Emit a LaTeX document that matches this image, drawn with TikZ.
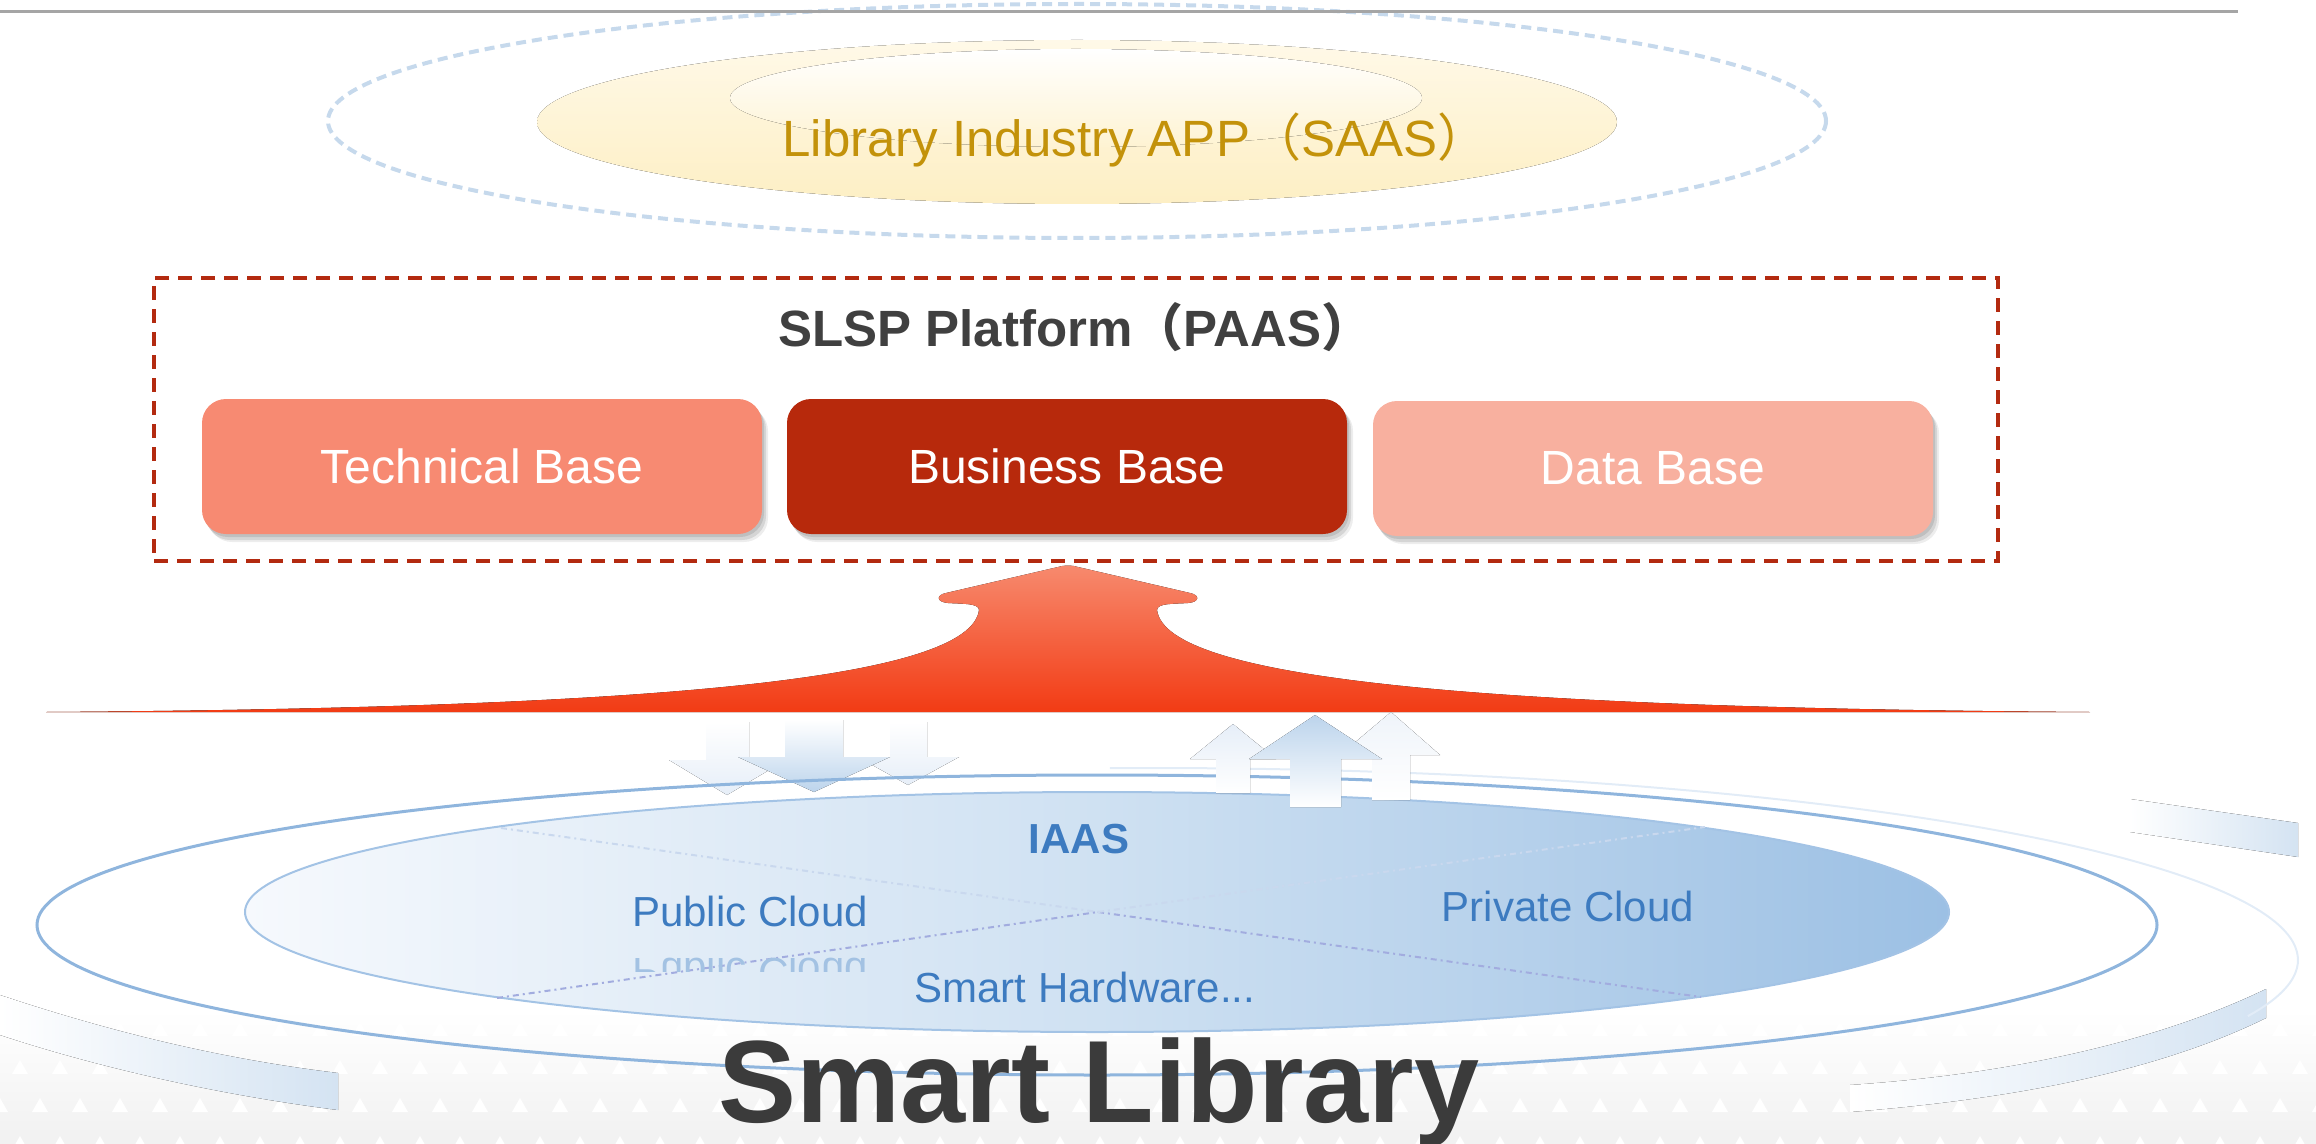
\documentclass[tikz,border=0pt]{standalone}
\usepackage{fontspec}
\setmainfont{Liberation Sans}
\newfontfamily\cjk{Noto Sans CJK SC}
\usetikzlibrary{shadows}
\definecolor{lineGray}{HTML}{A5A5A5}
\definecolor{dashBlue}{HTML}{C6D9EC}
\definecolor{yelA}{HTML}{FFF9E8}
\definecolor{yelB}{HTML}{FDEFC4}
\definecolor{goldText}{HTML}{C3920A}
\definecolor{redDash}{HTML}{B32A10}
\definecolor{titleGray}{HTML}{404040}
\definecolor{techCol}{HTML}{F78A72}
\definecolor{busCol}{HTML}{B7290C}
\definecolor{dataCol}{HTML}{F8B09F}
\definecolor{arrowTop}{HTML}{F78A6E}
\definecolor{arrowBot}{HTML}{F23B14}
\definecolor{outerBlue}{HTML}{8FB5DD}
\definecolor{innerLine}{HTML}{A3C3E5}
\definecolor{innerL}{HTML}{F6F9FD}
\definecolor{innerM}{HTML}{CFE1F2}
\definecolor{innerR}{HTML}{9CC0E4}
\definecolor{blueText}{HTML}{3D7BC0}
\definecolor{darkText}{HTML}{3B3B3B}
\definecolor{bandBlue}{HTML}{D4E3F2}
\definecolor{faintRing}{HTML}{E2ECF7}
\definecolor{arrowBlue}{HTML}{BCD4EC}
\definecolor{ghostBlue}{HTML}{E6EEF8}
\definecolor{ghostBlueB}{HTML}{EFF4FA}
\definecolor{xFaint}{HTML}{C9D8EE}
\definecolor{xPurple}{HTML}{A2ACDF}
\definecolor{bgGray}{HTML}{F1F1F1}
\tikzset{
  softshadow/.style={
    drop shadow={shadow xshift=1pt, shadow yshift=-1.5pt, opacity=0.10, fill=black},
    drop shadow={shadow xshift=2pt, shadow yshift=-3pt, opacity=0.10, fill=black},
    drop shadow={shadow xshift=3pt, shadow yshift=-4pt, opacity=0.07, fill=black}},
  basebox/.style={rounded corners=12pt, minimum width=280pt, minimum height=67.5pt,
    inner sep=0pt, text=white, font=\fontsize{24}{28}\selectfont, softshadow},
  bluetext/.style={anchor=base, text=blueText, font=\fontsize{21}{25}\selectfont},
  xline/.style={line width=1pt, dash pattern=on 3pt off 2pt on 1pt off 2pt},
}
\begin{document}
\begin{tikzpicture}[x=0.5pt,y=-0.5pt]
\useasboundingbox (0,0) rectangle (2316,1144);

% bottom background
\fill[top color=white, bottom color=bgGray] (0,1010) rectangle (2316,1144);
\foreach \r in {0,1,2,3}{
  \foreach \c in {0,...,58}{
    \pgfmathsetmacro\xx{\c*40+20*mod(\r,2)}
    \pgfmathsetmacro\yy{1022+\r*38}
    \fill[white] (\xx,\yy) -- ++(-8,14) -- ++(16,0) -- cycle;
  }
}

% SAAS layer
\fill[top color=yelA, bottom color=yelB] (1077,122) ellipse [x radius=540, y radius=82];
\fill[top color=white, bottom color=yelB!60!yelA] (1076,98) ellipse [x radius=346, y radius=49];
\draw[dashBlue, line width=2pt, dash pattern=on 5pt off 3pt] (1077,121) ellipse [x radius=749, y radius=117];
\draw[lineGray, line width=1.5pt] (0,12) -- (2238,12);
\node[anchor=base west, inner sep=0pt, text=goldText, font=\fontsize{25.5}{30}\selectfont] (saas) at (782,157) {Library Industry APP{\cjk （}SAAS{\cjk ）}};

% PAAS layer
\node[draw=redDash, line width=2pt, dash pattern=on 7pt off 4.5pt, minimum width=922pt, minimum height=141.5pt, inner sep=0pt] (paas) at (1076,419.5) {};
\node[anchor=base west, inner sep=0pt, text=titleGray, font=\bfseries\fontsize{25.5}{30}\selectfont] (paastitle) at (778,347) {SLSP Platform{\cjk\bfseries （}PAAS{\cjk\bfseries ）}};
\node[basebox, fill=techCol] (tech) at (482,466.5) {Technical Base};
\node[basebox, fill=busCol] (bus) at (1067,466.5) {Business Base};
\node[basebox, fill=dataCol] (data) at (1653,468.5) {Data Base};

% big red arrow
\fill[top color=arrowTop, bottom color=arrowBot]
  (46,712) .. controls (650,708) and (970,680) .. (979,610)
  .. controls (979,603) and (962,604) .. (948,603)
  .. controls (936,602) and (936,595) .. (946,593)
  -- (1058,567) .. controls (1064,565) and (1072,565) .. (1078,567)
  -- (1190,593) .. controls (1200,595) and (1200,602) .. (1188,603)
  .. controls (1174,604) and (1157,603) .. (1157,610)
  .. controls (1166,680) and (1486,708) .. (2090,712) -- cycle;

% swoosh bands
\fill[left color=white, right color=bandBlue] (0,995) .. controls (120,1035) and (230,1060) .. (338,1073) -- (338,1110) .. controls (220,1095) and (100,1068) .. (0,1035) -- cycle;
\fill[left color=white, right color=bandBlue] (2130,799) -- (2298,823) -- (2298,857) -- (2130,832) -- cycle;
\fill[left color=white, right color=bandBlue] (2266,989) -- (2266,1018) .. controls (2150,1075) and (2000,1100) .. (1850,1112) -- (1850,1085) .. controls (2000,1075) and (2150,1045) .. (2266,989) -- cycle;

% faint outer ring
\draw[faintRing, line width=1pt] plot[domain=92:-17, samples=90, smooth] ({1150+1148*cos(\x)},{960-192*sin(\x)});

% down arrows (behind outlines)
\fill[top color=white, bottom color=ghostBlue] (706,722) -- (749,722) -- (749,760) -- (786,760) -- (727,795) -- (669,760) -- (706,760) -- cycle;
\fill[top color=white, bottom color=ghostBlue] (890,722) -- (927,722) -- (927,757) -- (959,757) -- (908,785) -- (858,757) -- (890,757) -- cycle;
\fill[top color=white, bottom color=arrowBlue] (785,720) -- (843,720) -- (843,757) -- (890,757) -- (814,792) -- (738,757) -- (785,757) -- cycle;

% IAAS ellipses
\draw[outerBlue, line width=1.5pt] (1097,925) ellipse [x radius=1060, y radius=150];
\fill[left color=innerL, right color=innerR, middle color=innerM] (1097,912) ellipse [x radius=852, y radius=120];
\draw[innerLine, line width=1pt] (1097,912) ellipse [x radius=852, y radius=120];

% up arrows
\fill[top color=ghostBlue, bottom color=white] (1233,724) -- (1276,759) -- (1250,759) -- (1250,793) -- (1216,793) -- (1216,759) -- (1190,759) -- cycle;
\fill[top color=ghostBlueB, bottom color=white] (1391,712) -- (1440,755) -- (1410,755) -- (1410,800) -- (1372,800) -- (1372,755) -- (1340,755) -- cycle;
\fill[top color=arrowBlue, bottom color=white] (1315,715) -- (1382,759) -- (1341,759) -- (1341,807) -- (1290,807) -- (1290,759) -- (1249,759) -- cycle;

% dash-dot cross
\coordinate (xc) at (1098,912);
\coordinate (xa) at (501,828);
\coordinate (xb) at (1701,997);
\coordinate (xd) at (497,998);
\coordinate (xe) at (1705,827);
\draw[xline, xFaint] (xa) -- (xc);
\draw[xline, xPurple] (xc) -- (xb);
\draw[xline, xPurple] (xd) -- (xc);
\draw[xline, xFaint] (xc) -- (xe);

% texts
\node[bluetext, font=\bfseries\fontsize{21}{25}\selectfont] (iaas) at (1079,853) {IAAS};
\node[bluetext] (public) at (750,926) {Public Cloud};
\begin{scope}
  \clip (600,955) rectangle (900,971);
  \node[anchor=base, yscale=-1, text=blueText!30!innerM, font=\fontsize{21}{25}\selectfont] (publicrefl) at (750,958) {Public Cloud};
\end{scope}
\node[bluetext] (private) at (1568,921) {Private Cloud};
\node[bluetext] (hardware) at (1085,1002) {Smart Hardware...};
\node[anchor=base, text=darkText, font=\bfseries\fontsize{58.5}{62}\selectfont] (smartlib) at (1099,1122) {Smart Library};
\end{tikzpicture}
\end{document}
